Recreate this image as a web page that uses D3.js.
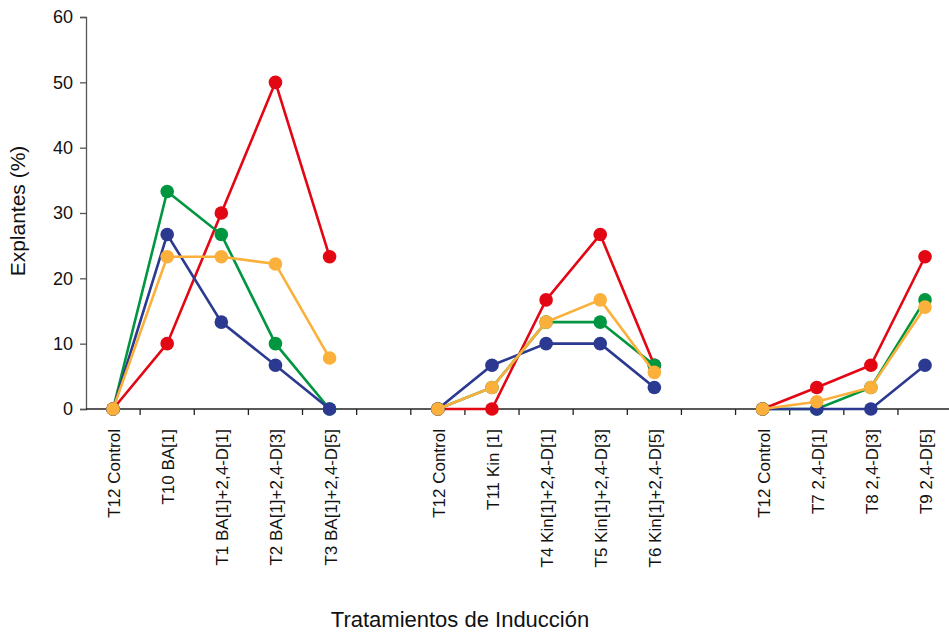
<!DOCTYPE html>
<html><head><meta charset="utf-8">
<script src="https://cdn.jsdelivr.net/npm/d3@7"></script>
<style>body{margin:0;background:#fff}svg{display:block}text{font-family:"Liberation Sans",Arial,sans-serif}</style>
</head><body><svg id="c" width="949" height="633"></svg>
<script>
const categories = ["T12 Control","T10 BA[1]","T1 BA[1]+2,4-D[1]","T2 BA[1]+2,4-D[3]","T3 BA[1]+2,4-D[5]","",
  "T12 Control","T11 Kin [1]","T4 Kin[1]+2,4-D[1]","T5 Kin[1]+2,4-D[3]","T6 Kin[1]+2,4-D[5]","",
  "T12 Control","T7 2,4-D[1]","T8 2,4-D[3]","T9 2,4-D[5]"];
const red    = [0,10,30,50,23.3,null, 0,0,16.7,26.7,6.7,null, 0,3.3,6.7,23.3];
const green  = [0,33.3,26.7,10,0,null, 0,3.3,13.3,13.3,6.7,null, 0,0,3.3,16.7];
const blue   = [0,26.7,13.3,6.7,0,null, 0,6.7,10,10,3.3,null, 0,0,0,6.7];
const orange = [0,23.3,23.3,22.2,7.8,null, 0,3.3,13.3,16.7,5.6,null, 0,1.1,3.3,15.6];
const yTicks = [0,10,20,30,40,50,60];
const series = [
  {name:"red", values:red, color:"#e30613"},
  {name:"green", values:green, color:"#009640"},
  {name:"blue", values:blue, color:"#2b3990"},
  {name:"orange", values:orange, color:"#fbb03b"}
];

const svg = d3.select("#c");
const left = 86, slot = 54.13;
const idx = categories.map((d,i)=>i);
const x = d3.scaleBand().domain(idx).range([left, left + slot*categories.length]).paddingInner(0).paddingOuter(0);
const y = d3.scaleLinear().domain([0,60]).range([409,17]);

// Y axis
const yAxis = svg.append("g").attr("transform",`translate(${left},0)`)
  .call(d3.axisLeft(y).tickValues(yTicks).tickSize(6).tickPadding(7));
yAxis.select(".domain").attr("stroke","#555").attr("stroke-width",1.3);
yAxis.selectAll(".tick line").attr("stroke","#555").attr("stroke-width",1.3);
yAxis.selectAll(".tick text").attr("font-size","18px").attr("fill","#111");

// X axis line and ticks at category boundaries
const xg = svg.append("g");
xg.append("line").attr("x1",left).attr("x2",949).attr("y1",y(0)).attr("y2",y(0))
  .attr("stroke","#222").attr("stroke-width",1.3);
const bounds = d3.range(1, categories.length+1).map(i => left + slot*i);
xg.selectAll(".xt").data(bounds).join("line").attr("class","xt")
  .attr("x1",d=>d).attr("x2",d=>d).attr("y1",y(0)).attr("y2",y(0)+6)
  .attr("stroke","#222").attr("stroke-width",1.3);
xg.selectAll(".xl").data(idx.filter(i=>categories[i]!=="")).join("text").attr("class","xl")
  .attr("transform",i=>`translate(${x(i)+x.bandwidth()/2+7},429) rotate(-90)`)
  .attr("text-anchor","end").attr("font-size","17px").attr("fill","#111")
  .text(i=>categories[i]);

// Lines
const line = d3.line().defined(d=>d.v!==null).x(d=>x(d.i)+x.bandwidth()/2).y(d=>y(d.v));
series.forEach(s=>{
  const pts = s.values.map((v,i)=>({i,v}));
  svg.append("path").datum(pts).attr("d",line).attr("fill","none")
    .attr("stroke",s.color).attr("stroke-width",2.6);
  svg.append("g").selectAll("circle").data(pts.filter(d=>d.v!==null)).join("circle")
    .attr("cx",d=>x(d.i)+x.bandwidth()/2).attr("cy",d=>y(d.v)).attr("r",6.8)
    .attr("fill",s.color);
});

// Titles
svg.append("text").attr("transform","translate(25,211) rotate(-90)").attr("text-anchor","middle")
  .attr("font-size","21px").attr("fill","#111").text("Explantes (%)");
svg.append("text").attr("x",460).attr("y",627).attr("text-anchor","middle")
  .attr("font-size","22px").attr("fill","#111").text("Tratamientos de Inducción");
</script></body></html>
